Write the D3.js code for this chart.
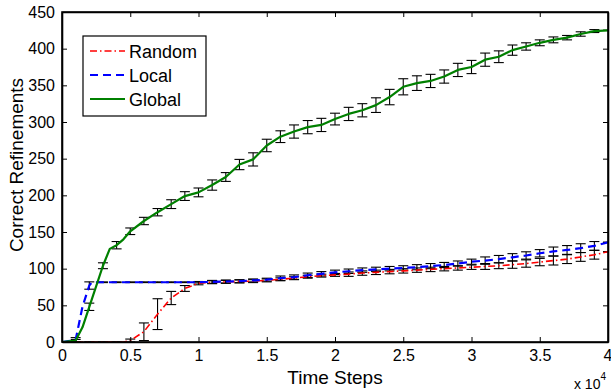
<!DOCTYPE html>
<html><head><meta charset="utf-8">
<script src="https://cdn.jsdelivr.net/npm/d3@7/dist/d3.min.js"></script>
<style>
body{margin:0;background:#fff;}
svg{display:block;font-family:"Liberation Sans",Arial,Helvetica,sans-serif;}
</style></head>
<body>
<svg id="chart" width="611" height="392"></svg>
<script>
// ---- data ----
const steps = [0,1000,2000,3000,4000,5000,6000,7000,8000,9000,10000,11000,12000,13000,14000,15000,16000,17000,18000,19000,20000,21000,22000,23000,24000,25000,26000,27000,28000,29000,30000,31000,32000,33000,34000,35000,36000,37000,38000,39000,40000];
const randomMean = [0,0,0,0,0,2,14,38,60,73,80,81.5,82,82.5,83,84,85.5,87,89,90.5,91.5,92.5,94,95,96,97,98,99,100,101,102,103,104,105.5,107,109,111,113,116,119,123];
const randomErr  = [0,0,0,0,0,2,12,21,9,4,2,2,2,2,2,2,2,2,2,2,2,3,3,3,3,3,3,3,3,3,3,4,4,5,5,5,6,6,6,6,0];
const localMean  = [0,3,77,81.5,81.5,81.5,81.5,81.5,81.5,81.5,81.5,82,82.5,83,84,85,87,88.5,91,93,95,96.5,98,99,100,101,102,103.5,105,107,109.5,111,113,115.5,118,121,123.5,125.5,128,131,136];
const localErr   = [0,3,5,0.5,0.5,0.5,0.5,0.5,0.5,0.5,1,2,2,2,2,2,3,3,3,3,3,3,3,3,3,3,3.5,3.5,3.5,3.5,3.5,5,5,5,5,5,6,6,6,6,0];
const globalMean = [0,2,48,104,132,151,165,177,188,199,204,214,225,242,249,268,280,287,293,296,304,311,316,323,334,348,353,356,362,371,375,385,389,398,403,408,412,415,420,424,425];
const globalErr  = [0,1.5,5,4,5,4.5,5,5,6,6,6,7,6,7,9,8.5,8,9,9,9,8,9,9,10,10.5,11,10,9,9,9,9,9,8,7,5,4,4,3,3,2,0];
// extra points on the lines only (between sampled steps)
const localExtraX  = [1500,2200];
const localExtraY  = [48,81.5];
const globalExtraX = [1500,3500,4500];
const globalExtraY = [20,127,140];
const randomExtraX = [4500];
const randomExtraY = [0];
const xTicks = [0,5000,10000,15000,20000,25000,30000,35000,40000];
const xTickLabels = ["0","0.5","1","1.5","2","2.5","3","3.5","4"];
const yTicks = [0,50,100,150,200,250,300,350,400,450];
const seriesNames = ["Random","Local","Global"];

// ---- layout ----
const svg = d3.select("#chart");
const L = 62, R = 608, T = 12, B = 342;
const x = d3.scaleLinear().domain([0,40000]).range([L,R]);
const y = d3.scaleLinear().domain([0,450]).range([B,T]);

svg.append("defs").append("clipPath").attr("id","clip")
  .append("rect").attr("x",L).attr("y",T).attr("width",R-L).attr("height",B-T);

function merge(xs, ys, ex, ey){
  const pts = xs.map((d,i)=>[d, ys[i]]);
  ex.forEach((d,i)=>pts.push([d, ey[i]]));
  return pts.sort((a,b)=>a[0]-b[0]);
}

const series = [
  {name:"Random", mean:randomMean, err:randomErr, pts:merge(steps,randomMean,randomExtraX,randomExtraY), color:"#ff0000", width:1.6, dash:"7,3,1.5,3"},
  {name:"Local", mean:localMean, err:localErr, pts:merge(steps,localMean,localExtraX,localExtraY), color:"#0000ff", width:2.2, dash:"8,5"},
  {name:"Global", mean:globalMean, err:globalErr, pts:merge(steps,globalMean,globalExtraX,globalExtraY), color:"#008000", width:2.2, dash:null}
];

const plot = svg.append("g").attr("clip-path","url(#clip)");
const line = d3.line().x(d=>x(d[0])).y(d=>y(d[1]));
const cap = 5;

// error bars (black) first
series.forEach(s=>{
  const g = plot.append("g").attr("stroke","#000").attr("stroke-width",1.1).attr("fill","none");
  steps.forEach((st,i)=>{
    if(i===0) return;
    const xc = x(st), y1 = y(s.mean[i]-s.err[i]), y2 = y(s.mean[i]+s.err[i]);
    g.append("line").attr("x1",xc).attr("x2",xc).attr("y1",y1).attr("y2",y2);
    g.append("line").attr("x1",xc-cap).attr("x2",xc+cap).attr("y1",y1).attr("y2",y1);
    g.append("line").attr("x1",xc-cap).attr("x2",xc+cap).attr("y1",y2).attr("y2",y2);
  });
});
// lines on top
series.forEach(s=>{
  plot.append("path").datum(s.pts).attr("d",line)
    .attr("fill","none").attr("stroke",s.color).attr("stroke-width",s.width)
    .attr("stroke-dasharray",s.dash).attr("stroke-linejoin","round");
});

// axes (ticks inward, box)
const fs = 16;
const axB = svg.append("g").attr("transform",`translate(0,${B})`)
  .call(d3.axisBottom(x).tickValues(xTicks).tickFormat((d,i)=>xTickLabels[i]).tickSizeInner(-5).tickSizeOuter(0).tickPadding(8));
const axT = svg.append("g").attr("transform",`translate(0,${T})`)
  .call(d3.axisTop(x).tickValues(xTicks).tickFormat("").tickSizeInner(-5).tickSizeOuter(0));
const axL = svg.append("g").attr("transform",`translate(${L},0)`)
  .call(d3.axisLeft(y).tickValues(yTicks).tickSizeInner(-5).tickSizeOuter(0).tickPadding(7));
const axR = svg.append("g").attr("transform",`translate(${R},0)`)
  .call(d3.axisRight(y).tickValues(yTicks).tickFormat("").tickSizeInner(-5).tickSizeOuter(0));
[axB,axT,axL,axR].forEach(a=>{
  a.select(".domain").attr("stroke","#000").attr("stroke-width",1.6);
  a.selectAll(".tick line").attr("stroke","#000").attr("stroke-width",1);
  a.selectAll("text").attr("font-size",fs).attr("fill","#000").attr("font-family","Liberation Sans, Arial, sans-serif");
});
// keep the last x tick label inside the picture
axB.selectAll(".tick text").filter((d,i)=>i===xTicks.length-1).attr("text-anchor","end").attr("dx",4);
svg.append("rect").attr("x",L).attr("y",T).attr("width",R-L).attr("height",B-T)
  .attr("fill","none").attr("stroke","#000").attr("stroke-width",1.6);

// axis labels
svg.append("text").attr("x",(L+R)/2).attr("y",384).attr("text-anchor","middle")
  .attr("font-size",19).text("Time Steps");
const mult = svg.append("text").attr("x",606).attr("y",389).attr("text-anchor","end").attr("font-size",14);
mult.append("tspan").text("x 10");
mult.append("tspan").attr("dy",-9).attr("font-size",10).text("4");
svg.append("text").attr("transform",`translate(23,165) rotate(-90)`)
  .attr("text-anchor","middle").attr("font-size",19).text("Correct Refinements");

// legend
const lg = svg.append("g");
lg.append("rect").attr("x",83).attr("y",36).attr("width",123).attr("height",80)
  .attr("fill","#fff").attr("stroke","#000").attr("stroke-width",1.2);
series.forEach((s,i)=>{
  const yy = 51 + i*24;
  lg.append("line").attr("x1",90).attr("x2",125).attr("y1",yy).attr("y2",yy)
    .attr("stroke",s.color).attr("stroke-width",s.width).attr("stroke-dasharray",s.dash);
  lg.append("text").attr("x",129).attr("y",yy+6.5).attr("font-size",18).text(seriesNames[i]);
});
</script>
</body></html>
